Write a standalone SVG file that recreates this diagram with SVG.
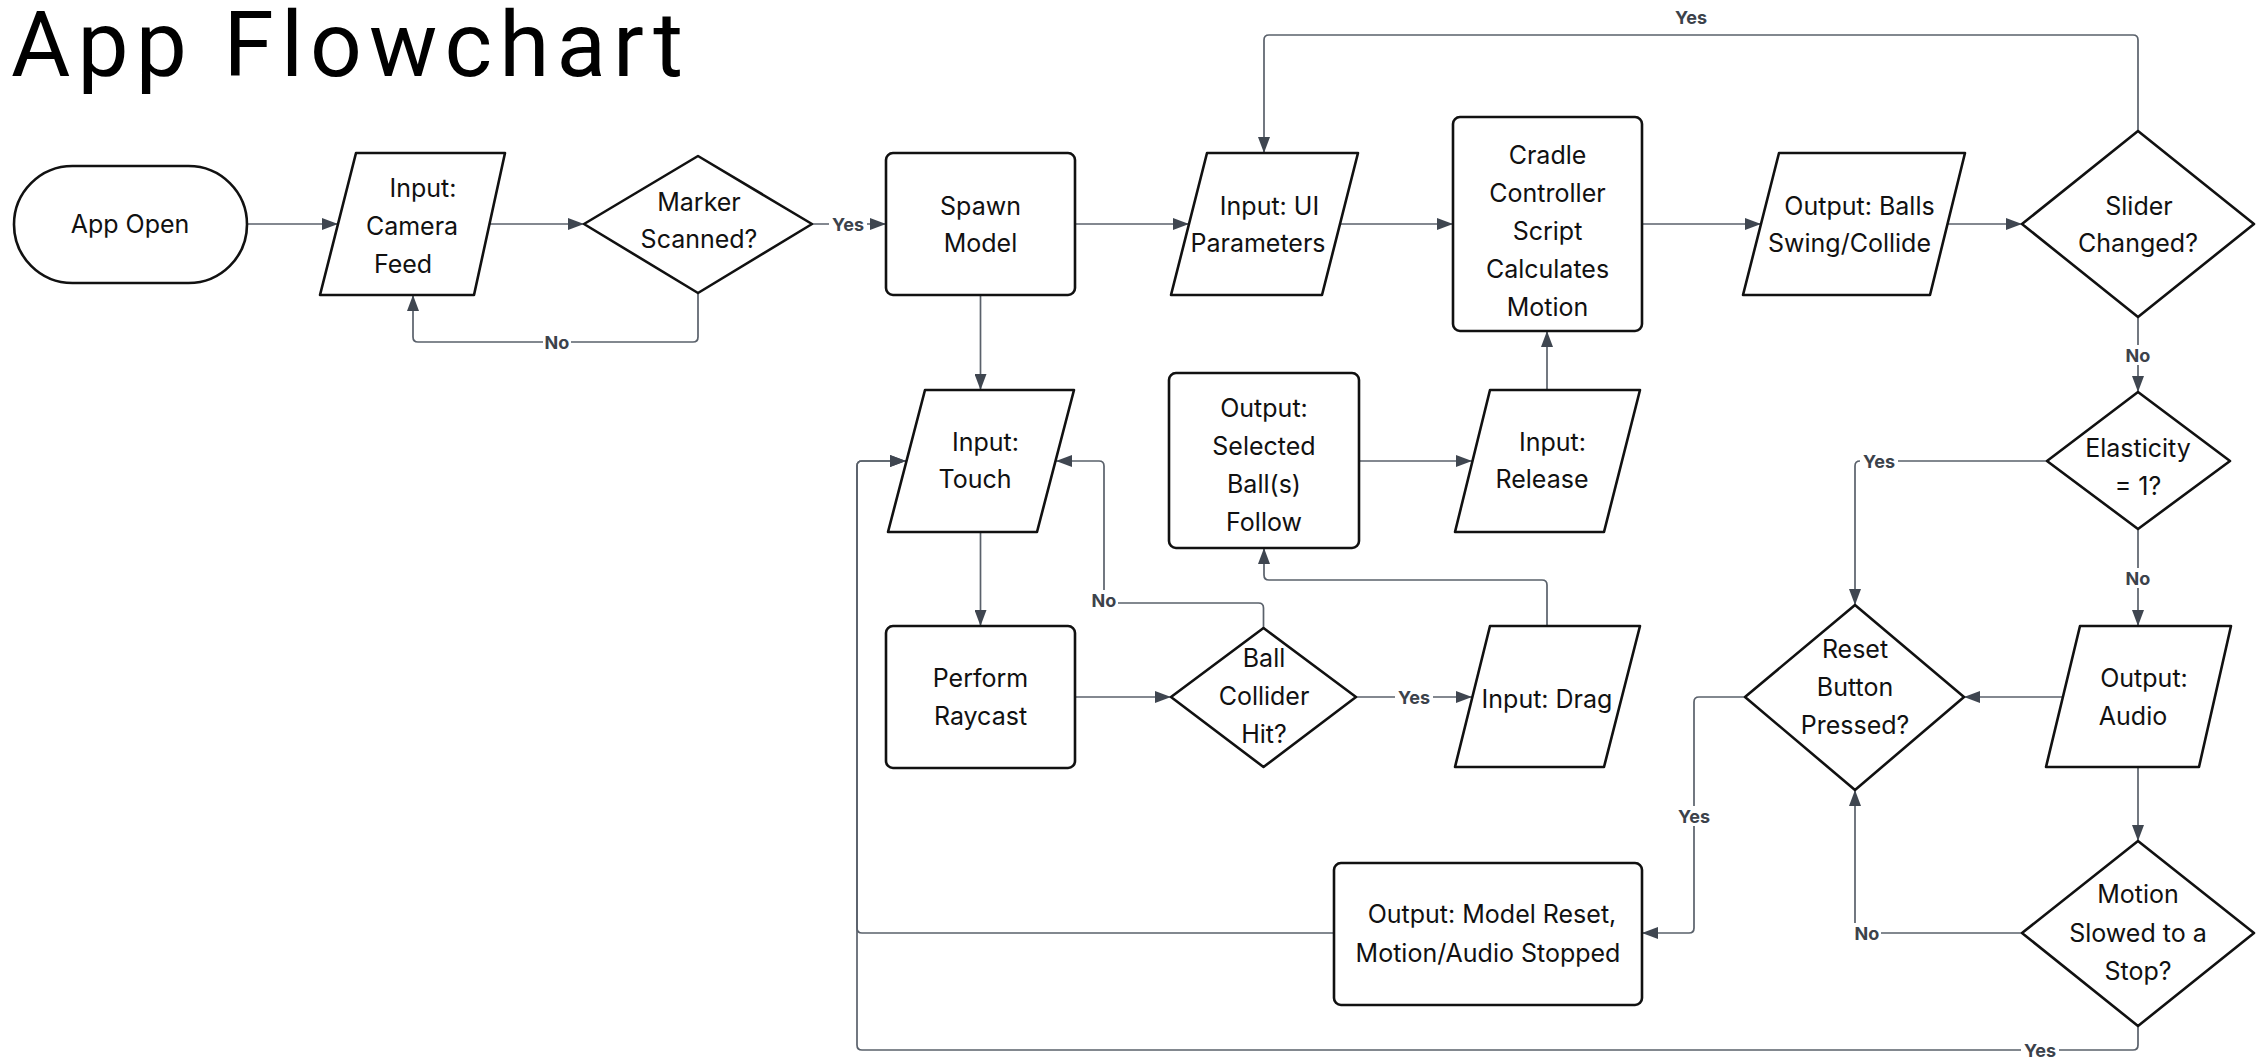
<svg xmlns="http://www.w3.org/2000/svg" width="2262" height="1060" viewBox="0 0 2262 1060">
<style>
.n{fill:#fff;stroke:#111;stroke-width:2.6;stroke-linejoin:round}
.t{font-family:Inter,"Liberation Sans",sans-serif;font-size:25px;fill:#111;text-anchor:middle}
.c{fill:none;stroke:#5a616b;stroke-width:1.7}
.lb{fill:#fff}
.lt{font-family:Inter,"Liberation Sans",sans-serif;font-size:18px;font-weight:700;fill:#3c424b;text-anchor:middle}
.title{font-family:Roboto,"Liberation Sans",sans-serif;font-size:91px;font-weight:400;fill:#000}
</style>
<defs>
<marker id="ah" markerUnits="userSpaceOnUse" markerWidth="16" markerHeight="12" refX="16" refY="6" orient="auto">
<path d="M0,0 L16,6 L0,12 z" fill="#3f4650"/>
</marker>
</defs>
<rect width="2262" height="1060" fill="#fff"/>
<text class="title" x="11" y="76" textLength="672" lengthAdjust="spacing">App Flowchart</text>

<g id="connectors">
<path class="c" marker-end="url(#ah)" d="M247,224 H338"/>
<path class="c" marker-end="url(#ah)" d="M490,224 H584"/>
<path class="c" marker-end="url(#ah)" d="M698,293 V337 Q698,342 693,342 H418 Q413,342 413,337 V295"/>
<path class="c" marker-end="url(#ah)" d="M812,224 H886"/>
<path class="c" marker-end="url(#ah)" d="M1075,224 H1189"/>
<path class="c" marker-end="url(#ah)" d="M1340,224 H1453"/>
<path class="c" marker-end="url(#ah)" d="M1642,224 H1761"/>
<path class="c" marker-end="url(#ah)" d="M1948,224 H2022"/>
<path class="c" marker-end="url(#ah)" d="M2138,131 V40 Q2138,35 2133,35 H1269 Q1264,35 1264,40 V153"/>
<path class="c" marker-end="url(#ah)" d="M2138,317 V392"/>
<path class="c" marker-end="url(#ah)" d="M980.5,295 V390"/>
<path class="c" marker-end="url(#ah)" d="M980.5,532 V626"/>
<path class="c" marker-end="url(#ah)" d="M1075,697 H1171"/>
<path class="c" marker-end="url(#ah)" d="M1263.5,628 V608 Q1263.5,603 1258.5,603 H1109 Q1104,603 1104,598 V466 Q1104,461 1099,461 H1056"/>
<path class="c" marker-end="url(#ah)" d="M1356,697 H1472"/>
<path class="c" marker-end="url(#ah)" d="M1547,626 V585 Q1547,580 1542,580 H1269 Q1264,580 1264,575 V548"/>
<path class="c" marker-end="url(#ah)" d="M1359,461 H1472"/>
<path class="c" marker-end="url(#ah)" d="M1547,390 V331"/>
<path class="c" marker-end="url(#ah)" d="M2047,461 H1860 Q1855,461 1855,466 V605"/>
<path class="c" marker-end="url(#ah)" d="M2138,529 V626"/>
<path class="c" marker-end="url(#ah)" d="M2062,697 H1964"/>
<path class="c" marker-end="url(#ah)" d="M2138,767 V841"/>
<path class="c" marker-end="url(#ah)" d="M2022,933 H1860 Q1855,933 1855,928 V790"/>
<path class="c" marker-end="url(#ah)" d="M2138,1026 V1045 Q2138,1050 2133,1050 H862 Q857,1050 857,1045 V466 Q857,461 862,461 H906"/>
<path class="c" marker-end="url(#ah)" d="M1745,697 H1699 Q1694,697 1694,702 V928 Q1694,933 1689,933 H1642"/>
<path class="c" marker-end="url(#ah)" d="M1334,933 H862 Q857,933 857,928 V466 Q857,461 862,461 H906"/>
<g id="labels">
<rect class="lb" x="543" y="332" width="28" height="20"/><text class="lt" x="557" y="348.5">No</text>
<rect class="lb" x="829" y="214" width="38" height="20"/><text class="lt" x="848" y="230.5">Yes</text>
<text class="lt" x="1691" y="23.5">Yes</text>
<rect class="lb" x="2124" y="345" width="28" height="20"/><text class="lt" x="2138" y="361.5">No</text>
<rect class="lb" x="1860" y="451" width="38" height="20"/><text class="lt" x="1879" y="467.5">Yes</text>
<rect class="lb" x="2124" y="568" width="28" height="20"/><text class="lt" x="2138" y="584.5">No</text>
<rect class="lb" x="1090" y="590" width="28" height="20"/><text class="lt" x="1104" y="606.5">No</text>
<rect class="lb" x="1395" y="687" width="38" height="20"/><text class="lt" x="1414" y="703.5">Yes</text>
<rect class="lb" x="1675" y="806" width="38" height="20"/><text class="lt" x="1694" y="822.5">Yes</text>
<rect class="lb" x="1853" y="923" width="28" height="20"/><text class="lt" x="1867" y="939.5">No</text>
<rect class="lb" x="2021" y="1040" width="38" height="20"/><text class="lt" x="2040" y="1056.5">Yes</text>
</g>
</g>

<g id="n-app-open"><rect class="n" x="14" y="166" width="233" height="117" rx="58.5"/><text class="t" x="130" y="233">App Open</text></g>
<g id="n-camera"><polygon class="n" points="356,153 505,153 474,295 320,295"/><text class="t" x="423" y="197">Input:</text><text class="t" x="412" y="235">Camera</text><text class="t" x="403" y="273">Feed</text></g>
<g id="n-marker"><polygon class="n" points="584,224 698,156 812,224 698,293"/><text class="t" x="699" y="211">Marker</text><text class="t" x="699" y="248">Scanned?</text></g>
<g id="n-spawn"><rect class="n" x="886" y="153" width="189" height="142" rx="7"/><text class="t" x="980.5" y="215">Spawn</text><text class="t" x="980.5" y="252">Model</text></g>
<g id="n-ui"><polygon class="n" points="1207,153 1358,153 1322,295 1171,295"/><text class="t" x="1269.5" y="215">Input: UI</text><text class="t" x="1258" y="252">Parameters</text></g>
<g id="n-cradle"><rect class="n" x="1453" y="117" width="189" height="214" rx="7"/><text class="t" x="1547.5" y="163.5">Cradle</text><text class="t" x="1547.5" y="201.5">Controller</text><text class="t" x="1547.5" y="239.5">Script</text><text class="t" x="1547.5" y="277.5">Calculates</text><text class="t" x="1547.5" y="315.5">Motion</text></g>
<g id="n-balls"><polygon class="n" points="1779,153 1965,153 1930,295 1743,295"/><text class="t" x="1859.5" y="215">Output: Balls</text><text class="t" x="1849.5" y="252">Swing/Collide</text></g>
<g id="n-slider"><polygon class="n" points="2022,224 2138,131 2254,224 2138,317"/><text class="t" x="2139" y="215">Slider</text><text class="t" x="2138" y="252">Changed?</text></g>
<g id="n-touch"><polygon class="n" points="925,390 1074,390 1037,532 888,532"/><text class="t" x="985.5" y="451">Input:</text><text class="t" x="975" y="488">Touch</text></g>
<g id="n-follow"><rect class="n" x="1169" y="373" width="190" height="175" rx="7"/><text class="t" x="1264" y="417">Output:</text><text class="t" x="1264" y="455">Selected</text><text class="t" x="1264" y="493">Ball(s)</text><text class="t" x="1264" y="531">Follow</text></g>
<g id="n-release"><polygon class="n" points="1490,390 1640,390 1604,532 1455,532"/><text class="t" x="1552.5" y="451">Input:</text><text class="t" x="1542" y="488">Release</text></g>
<g id="n-elasticity"><polygon class="n" points="2047,461 2138,392 2230,461 2138,529"/><text class="t" x="2138" y="457">Elasticity</text><text class="t" x="2138" y="495">= 1?</text></g>
<g id="n-raycast"><rect class="n" x="886" y="626" width="189" height="142" rx="7"/><text class="t" x="980.5" y="687">Perform</text><text class="t" x="980.5" y="725">Raycast</text></g>
<g id="n-ball"><polygon class="n" points="1171,697 1263.5,628 1356,697 1263.5,767"/><text class="t" x="1264" y="667">Ball</text><text class="t" x="1264" y="705">Collider</text><text class="t" x="1264" y="743">Hit?</text></g>
<g id="n-drag"><polygon class="n" points="1490,626 1640,626 1604,767 1455,767"/><text class="t" x="1547" y="708">Input: Drag</text></g>
<g id="n-reset"><polygon class="n" points="1745,697 1855,605 1964,697 1855,790"/><text class="t" x="1855" y="658">Reset</text><text class="t" x="1855" y="696">Button</text><text class="t" x="1855" y="734">Pressed?</text></g>
<g id="n-audio"><polygon class="n" points="2080,626 2231,626 2199,767 2046,767"/><text class="t" x="2144" y="687">Output:</text><text class="t" x="2133" y="725">Audio</text></g>
<g id="n-model-reset"><rect class="n" x="1334" y="863" width="308" height="142" rx="7"/><text class="t" x="1492" y="923">Output: Model Reset,</text><text class="t" x="1488" y="962">Motion/Audio Stopped</text></g>
<g id="n-motion"><polygon class="n" points="2022,933 2138,841 2254,933 2138,1026"/><text class="t" x="2138" y="903">Motion</text><text class="t" x="2138" y="941.5">Slowed to a</text><text class="t" x="2138" y="980">Stop?</text></g>
</svg>
